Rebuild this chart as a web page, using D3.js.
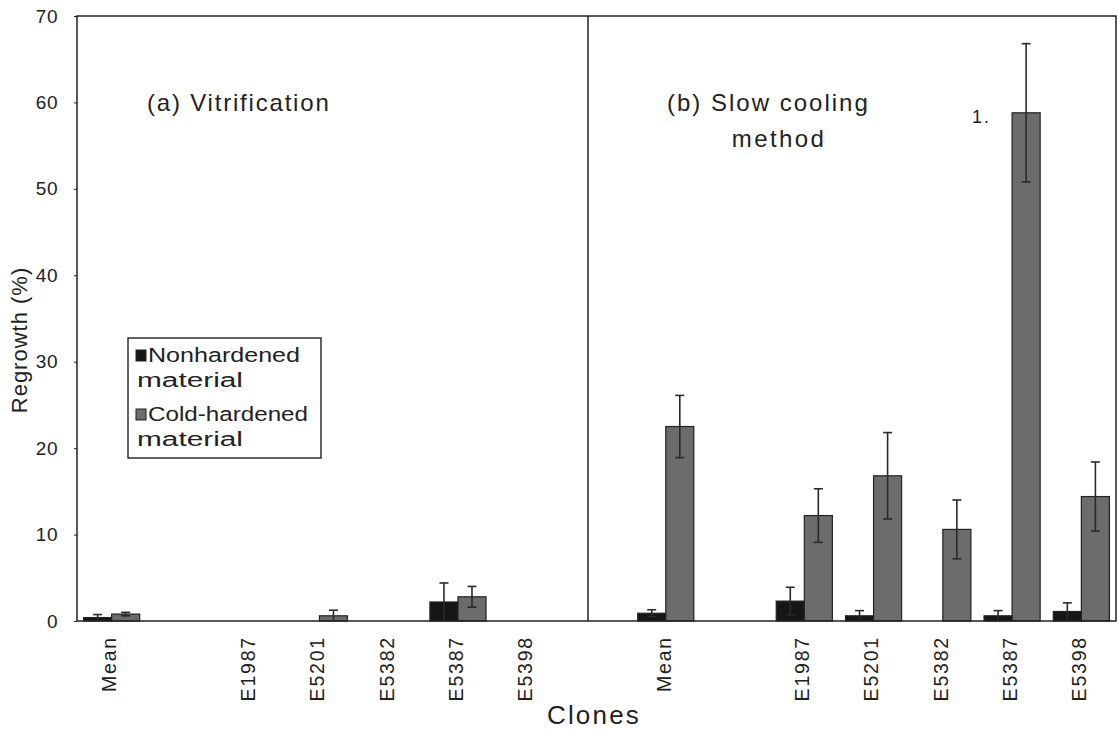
<!DOCTYPE html>
<html>
<head>
<meta charset="utf-8">
<script src="https://cdn.jsdelivr.net/npm/d3@7"></script>
<style>
  html, body { margin: 0; padding: 0; background: #fff; }
  svg { display: block; }
  text { font-family: "Liberation Sans", Arial, Helvetica, sans-serif; fill: #222; }
</style>
</head>
<body>
<svg id="chart" width="1118" height="732"></svg>
<script>
// ---------- data ----------
const clones = ["Mean", "E1987", "E5201", "E5382", "E5387", "E5398"];
const seriesNames = ["Nonhardened material", "Cold-hardened material"];
const vitrNon     = [0.4, 0, 0, 0, 2.2, 0];
const vitrNonErr  = [0.35, 0, 0, 0, 2.2, 0];
const vitrCold    = [0.8, 0, 0.6, 0, 2.8, 0];
const vitrColdErr = [0.2, 0, 0.65, 0, 1.2, 0];
const slowNon     = [0.9, 2.3, 0.6, 0, 0.6, 1.1];
const slowNonErr  = [0.4, 1.6, 0.6, 0, 0.6, 1.0];
const slowCold    = [22.5, 12.2, 16.8, 10.6, 58.8, 14.4];
const slowColdErr = [3.6, 3.1, 5.0, 3.4, 8.0, 4.0];
const yTicks = [0, 10, 20, 30, 40, 50, 60, 70];

// ---------- layout ----------
const M = { left: 77, right: 1116, top: 16, bottom: 621 };
const dividerX = 588;
const svg = d3.select("#chart");

const panels = [
  { key: "a", non: vitrNon, nonErr: vitrNonErr, cold: vitrCold, coldErr: vitrColdErr },
  { key: "b", non: slowNon, nonErr: slowNonErr, cold: slowCold, coldErr: slowColdErr }
];
const slots = [];
panels.forEach((p, pi) => {
  clones.forEach((c, i) => {
    slots.push({ id: p.key + ":" + c, label: c, panel: p, i: i });
    if (i === 0) slots.push({ id: p.key + ":gap", label: "", panel: null });
  });
  if (pi === 0) slots.push({ id: "mid:gap", label: "", panel: null });
});

const x0 = d3.scaleBand().domain(slots.map(s => s.id)).range([M.left, M.right])
  .paddingInner(0.19).paddingOuter(0.095);
const x1 = d3.scaleBand().domain(seriesNames).range([0, x0.bandwidth()]);
const y = d3.scaleLinear().domain([0, 70]).range([M.bottom, M.top]);

const colors = { "Nonhardened material": "#161616", "Cold-hardened material": "#6c6c6c" };

// ---------- bars ----------
const barData = [];
slots.filter(s => s.panel).forEach(s => {
  const p = s.panel;
  barData.push({ slot: s.id, series: seriesNames[0], v: p.non[s.i], e: p.nonErr[s.i] });
  barData.push({ slot: s.id, series: seriesNames[1], v: p.cold[s.i], e: p.coldErr[s.i] });
});

svg.append("g").selectAll("rect").data(barData.filter(d => d.v > 0)).join("rect")
  .attr("x", d => x0(d.slot) + x1(d.series))
  .attr("y", d => y(d.v))
  .attr("width", x1.bandwidth())
  .attr("height", d => y(0) - y(d.v))
  .attr("fill", d => colors[d.series])
  .attr("stroke", "#222")
  .attr("stroke-width", 1.2);

// ---------- error bars ----------
const eg = svg.append("g").attr("stroke", "#2a2a2a").attr("stroke-width", 1.6);
const errData = barData.filter(d => d.e > 0);
const cap = 4.5;
errData.forEach(d => {
  const cx = x0(d.slot) + x1(d.series) + x1.bandwidth() / 2;
  const lo = Math.max(0, d.v - d.e), hi = d.v + d.e;
  eg.append("line").attr("x1", cx).attr("x2", cx).attr("y1", y(lo)).attr("y2", y(hi));
  eg.append("line").attr("x1", cx - cap).attr("x2", cx + cap).attr("y1", y(hi)).attr("y2", y(hi));
  if (d.v - d.e > 0.3)
    eg.append("line").attr("x1", cx - cap).attr("x2", cx + cap).attr("y1", y(lo)).attr("y2", y(lo));
});

// ---------- frame ----------
svg.append("rect").attr("x", M.left).attr("y", M.top).attr("width", M.right - M.left).attr("height", M.bottom - M.top)
  .attr("fill", "none").attr("stroke", "#222").attr("stroke-width", 1.5);
svg.append("line").attr("x1", dividerX).attr("x2", dividerX).attr("y1", M.top).attr("y2", M.bottom)
  .attr("stroke", "#222").attr("stroke-width", 1.5);

// ---------- y axis ----------
const yAxis = d3.axisLeft(y).tickValues(yTicks).tickSize(3).tickPadding(16).tickFormat(d3.format("d"));
const gy = svg.append("g").attr("transform", `translate(${M.left},0)`).call(yAxis);
gy.select(".domain").remove();
gy.selectAll(".tick line").attr("stroke", "#222");
gy.selectAll(".tick text").style("font-size", "19px").style("letter-spacing", "0.5px").attr("fill", "#222")
  .style("font-family", "'Liberation Sans', Arial, sans-serif");

// ---------- x axis labels ----------
const xAxis = d3.axisBottom(x0).tickSize(0).tickPadding(0).tickFormat(id => slots.find(s => s.id === id).label);
const gx = svg.append("g").attr("transform", `translate(0,${M.bottom})`).call(xAxis);
gx.select(".domain").remove();
gx.selectAll(".tick text")
  .style("font-size", "19.5px").style("letter-spacing", "1.8px")
  .style("font-family", "'Liberation Sans', Arial, sans-serif").attr("fill", "#222")
  .attr("text-anchor", "end")
  .attr("transform", "rotate(-90)")
  .attr("x", -15).attr("y", -2).attr("dy", "0.35em");

// ---------- titles ----------
svg.append("text").attr("x", 594).attr("y", 724).attr("text-anchor", "middle")
  .style("font-size", "26px").style("letter-spacing", "2.2px").text("Clones");
svg.append("text").attr("transform", "translate(27,340) rotate(-90)").attr("text-anchor", "middle")
  .style("font-size", "22px").style("letter-spacing", "1px").text("Regrowth (%)");

svg.append("text").attr("x", 147).attr("y", 111).style("font-size", "24px").style("letter-spacing", "1.8px")
  .text("(a) Vitrification");
svg.append("text").attr("x", 667).attr("y", 111).style("font-size", "24px").style("letter-spacing", "2px")
  .text("(b) Slow cooling");
svg.append("text").attr("x", 779).attr("y", 147).attr("text-anchor", "middle").style("font-size", "24px")
  .style("letter-spacing", "2.4px").text("method");
svg.append("text").attr("x", 972).attr("y", 123).style("font-size", "18px").style("letter-spacing", "2px").text("1.");

// ---------- legend ----------
const lg = svg.append("g");
lg.append("rect").attr("x", 128).attr("y", 338).attr("width", 193).attr("height", 120)
  .attr("fill", "#fff").attr("stroke", "#222").attr("stroke-width", 1.4);
const legendRows = [
  { name: seriesNames[0], l1: "Nonhardened", w1: 152, l2: "material", w2: 106, y: 362 },
  { name: seriesNames[1], l1: "Cold-hardened", w1: 160, l2: "material", w2: 106, y: 421 }
];
legendRows.forEach(r => {
  lg.append("rect").attr("x", 136).attr("y", r.y - 12).attr("width", 10).attr("height", 11)
    .attr("fill", colors[r.name]).attr("stroke", "#222").attr("stroke-width", 1);
  lg.append("text").attr("x", 148).attr("y", r.y).style("font-size", "20px")
    .attr("textLength", r.w1).attr("lengthAdjust", "spacingAndGlyphs").text(r.l1);
  lg.append("text").attr("x", 137).attr("y", r.y + 25).style("font-size", "20px")
    .attr("textLength", r.w2).attr("lengthAdjust", "spacingAndGlyphs").text(r.l2);
});
</script>
</body>
</html>
